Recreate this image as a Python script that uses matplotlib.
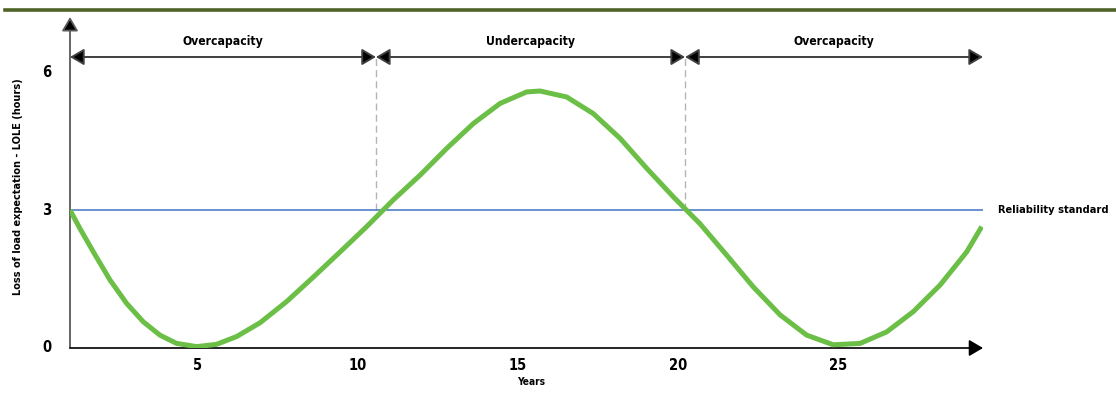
import matplotlib
matplotlib.use("Agg")
import matplotlib.pyplot as plt
from matplotlib.lines import Line2D

# ---- data ----
years = [1.0, 1.31, 1.73, 2.25, 2.77, 3.29, 3.81, 4.33, 4.96, 5.58, 6.21, 6.94,
         7.77, 8.60, 9.44, 10.27, 11.10, 11.94, 12.77, 13.60, 14.44, 15.27,
         15.69, 16.52, 17.35, 18.19, 19.02, 19.85, 20.69, 21.52, 22.35, 23.19,
         24.02, 24.85, 25.69, 26.52, 27.35, 28.19, 29.02, 29.49]
lole = [3.0, 2.60, 2.09, 1.48, 0.97, 0.57, 0.28, 0.10, 0.03, 0.08, 0.25, 0.55,
        1.01, 1.54, 2.09, 2.64, 3.22, 3.76, 4.34, 4.88, 5.32, 5.57,
        5.59, 5.46, 5.10, 4.56, 3.91, 3.29, 2.70, 2.02, 1.33, 0.72,
        0.28, 0.07, 0.10, 0.35, 0.79, 1.37, 2.09, 2.64]
reliability_standard = 3
x_ticks = [5, 10, 15, 20, 25]
y_ticks = [0, 3, 6]
phase_bounds = [1.0, 10.56, 20.22, 29.53]
phase_labels = ["Overcapacity", "Undercapacity", "Overcapacity"]

FONT = dict(family="DejaVu Sans", fontstretch="condensed", fontweight="bold")
W, H = 1116, 393
fig = plt.figure(figsize=(W / 100, H / 100), dpi=100)
ax = fig.add_axes([70 / W, 45 / H, 913 / W, 331 / H])
ax.set_xlim(1, 29.53)
ax.set_ylim(0, 7.2)
for s in ax.spines.values():
    s.set_visible(False)
ax.set_xticks([])
ax.set_yticks([])
renderer = fig.canvas.get_renderer()


def fit(t, target_px, vertical=False):
    bb = t.get_window_extent(renderer)
    cur = bb.height if vertical else bb.width
    t.set_fontsize(t.get_fontsize() * target_px / cur)


# top decorative bar
fig.add_artist(Line2D([5 / W, 1.0], [1 - 10 / H, 1 - 10 / H], transform=fig.transFigure,
                      color="#4f6228", lw=2.6))

head = "head_length=0.85,head_width=0.5"

# y axis with arrow
ax.annotate("", xy=(1, 7.2), xytext=(1, 0),
            arrowprops=dict(arrowstyle="-|>," + head, mutation_scale=10,
                            shrinkA=0, shrinkB=0, fc="black", ec="#595959", lw=1.3),
            annotation_clip=False)
# x axis with arrow
ax.annotate("", xy=(29.53, 0), xytext=(1, 0),
            arrowprops=dict(arrowstyle="-|>," + head, mutation_scale=10,
                            shrinkA=0, shrinkB=0, fc="black", ec="black", lw=1.2),
            annotation_clip=False)

# reliability standard line
ax.plot([1, 29.53], [reliability_standard, reliability_standard], color="#4472c4",
        lw=1.1, zorder=2)

# phase arrows
y_phase = 6.33
for i in range(len(phase_labels)):
    a, b = phase_bounds[i], phase_bounds[i + 1]
    ax.annotate("", xy=(b, y_phase), xytext=(a, y_phase),
                arrowprops=dict(arrowstyle="<|-|>," + head,
                                mutation_scale=10, shrinkA=0, shrinkB=0,
                                fc="black", ec="#404040", lw=1.4),
                annotation_clip=False)
    t = ax.text((a + b) / 2, y_phase + 0.2, phase_labels[i], ha="center", va="bottom",
                fontsize=10, **FONT)
    fit(t, 80 if i != 1 else 88)

for xb in phase_bounds[1:-1]:
    ax.plot([xb, xb], [reliability_standard, y_phase], color="#b4b4b4", lw=1,
            ls=(0, (5, 3)), zorder=1)

# main curve
ax.plot(years, lole, color="#6cbf46", lw=3.6, solid_capstyle="butt",
        solid_joinstyle="round", zorder=3)

# tick labels
for xt in x_ticks:
    ax.text(xt, -0.22, str(xt), ha="center", va="top", fontsize=10.5, **FONT)
for yt in y_ticks:
    ax.text(0.28, yt, str(yt), ha="center", va="center", fontsize=10.5, **FONT)

t = ax.text(30.0, reliability_standard, "Reliability standard", ha="left", va="center",
            fontsize=9.5, **FONT)
fit(t, 110)
t = ax.text(15.4, -0.64, "Years", ha="center", va="top", fontsize=9, **FONT)
fit(t, 28)
t = fig.text(18 / W, 1 - 187 / H, "Loss of load expectation - LOLE (hours)", rotation=90,
             ha="center", va="center", fontsize=9, **FONT)
fit(t, 218, vertical=True)

fig.savefig("out.png", dpi=100)
